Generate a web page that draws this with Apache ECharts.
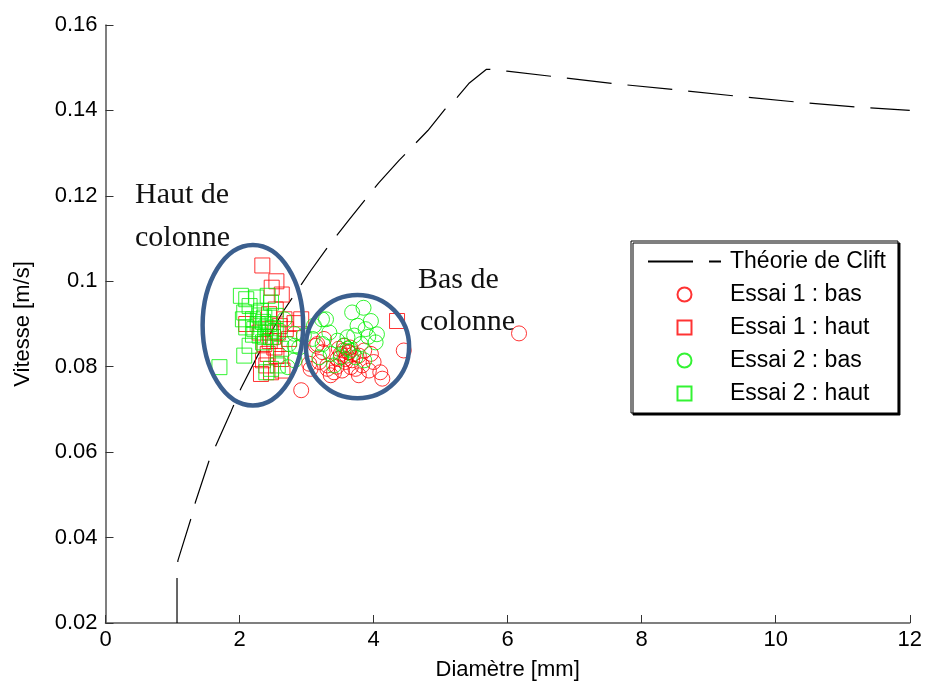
<!DOCTYPE html>
<html>
<head>
<meta charset="utf-8">
<script src="https://cdn.jsdelivr.net/npm/echarts@6.0.0/dist/echarts.min.js"></script>
<style>
	html, body { margin: 0; padding: 0; background: #fff; }
	#view1 { width: 925px; height: 686px; }
</style>
</head>
<body>
<div id="view1"></div>
<script>
	"use strict";
	// ---------------- données ----------------
	var xTicks = [0, 2, 4, 6, 8, 10, 12];
	var yTicks = [0.02, 0.04, 0.06, 0.08, 0.1, 0.12, 0.14, 0.16];
	var names = ['Théorie de Clift', 'Essai 1 : bas', 'Essai 1 : haut', 'Essai 2 : bas', 'Essai 2 : haut'];

	// théorie de Clift [diamètre mm, vitesse m/s]
	var clift = [[1.067,0.020],[1.067,0.031],[1.08,0.0346],[1.28,0.0447],[1.34,0.0482],[1.55,0.0582],[1.65,0.0617],
		[1.875,0.0696],[2.02,0.0749],[2.27,0.0826],[2.64,0.0927],[2.82,0.0969],[3.04,0.1020],[3.31,0.1079],
		[3.63,0.1143],[3.88,0.1192],[4.08,0.1231],[4.38,0.1283],[4.81,0.1353],[5.06,0.1402],[5.25,0.1431],
		[5.42,0.1463],[5.68,0.1496],[5.74,0.1496],[5.99,0.1492],[6.65,0.1480],[7.56,0.1463],[8.47,0.1449],
		[9.38,0.1434],[10.29,0.1420],[11.2,0.1408],[12,0.1400]];

	var essai1Bas = [[3.56,0.0849],[3.63,0.0834],[3.51,0.0830],[3.78,0.0826],[3.96,0.0830],[4.00,0.0811],[3.83,0.0803],
		[3.66,0.0799],[3.53,0.0791],[3.41,0.0787],[3.31,0.0803],[3.19,0.0811],[3.06,0.0795],[3.24,0.0834],[3.14,0.0849],
		[4.10,0.0787],[4.13,0.0772],[3.78,0.0780],[3.93,0.0791],[3.46,0.0818],[3.68,0.0815],[3.58,0.0811],[3.36,0.0780],
		[2.92,0.0745],[4.45,0.0838],[6.17,0.0878],[3.55,0.0838],[3.60,0.0826],[3.65,0.0845],[3.58,0.0818],[3.62,0.0834],
		[3.70,0.0830],[3.48,0.0842],[3.16,0.0853],[3.26,0.0865],[3.04,0.0807],[3.31,0.0795],[3.86,0.0838],[3.73,0.0795],
		[3.45,0.0800]];
	var essai1Haut = [[2.34,0.1037],[2.55,0.1000],[2.48,0.0985],[2.63,0.0969],[2.92,0.0911],[4.35,0.0907],[2.37,0.0853],
		[2.52,0.0845],[2.42,0.0830],[2.62,0.0818],[2.32,0.0783],[2.47,0.0787],[2.64,0.0791],[2.40,0.0803],[2.57,0.0880],
		[2.69,0.0888],[2.74,0.0865],[2.67,0.0911],[2.44,0.0923],[2.54,0.0934],[2.10,0.0900],[2.82,0.0902],[2.50,0.0870],
		[2.45,0.0860],[2.60,0.0895],[2.30,0.0880],[2.55,0.0825],[2.35,0.0815]];
	var essai2Bas = [[3.85,0.0938],[3.68,0.0927],[3.96,0.0907],[3.29,0.0911],[3.11,0.0896],[3.34,0.0880],[3.76,0.0896],
		[3.88,0.0888],[4.05,0.0876],[3.71,0.0873],[3.61,0.0869],[3.46,0.0861],[3.09,0.0865],[2.96,0.0873],[3.24,0.0853],
		[3.81,0.0853],[4.03,0.0857],[3.61,0.0842],[3.36,0.0830],[3.19,0.0822],[3.51,0.0822],[3.73,0.0822],[3.86,0.0815],
		[3.41,0.0803],[2.82,0.0849],[2.67,0.0911],[2.82,0.0877],[2.74,0.0853],[2.89,0.0845],[2.82,0.0815],[2.72,0.0799],
		[3.23,0.0911],[3.56,0.0850],[3.66,0.0838],[3.92,0.0870]];
	var essai2Haut = [[2.10,0.0958],[2.25,0.0962],[2.42,0.0966],[2.15,0.0942],[2.07,0.0927],[2.32,0.0931],[2.47,0.0950],
		[2.05,0.0911],[2.20,0.0911],[2.37,0.0915],[2.54,0.0919],[2.27,0.0900],[2.44,0.0900],[2.10,0.0892],[2.22,0.0888],
		[2.40,0.0892],[2.54,0.0884],[2.30,0.0873],[2.47,0.0869],[2.15,0.0849],[2.07,0.0826],[1.70,0.0799],[2.35,0.0857],
		[2.47,0.0795],[2.40,0.0787],[2.62,0.0842],[2.57,0.0803],[2.02,0.0966],[2.35,0.0905],[2.45,0.0880],[2.30,0.0920],
		[2.50,0.0890],[2.38,0.0870],[2.20,0.0875]];

	// ellipses d'annotation [cx, cy, rx, ry] en unités des axes
	var ellipses = [[2.199, 0.0897, 0.750, 0.0188], [3.76, 0.0847, 0.77, 0.0121]];

	// ---------------- graphique ----------------
	var FONT = 'Liberation Sans, Arial, sans-serif';
	var SERIF = 'Liberation Serif, Times New Roman, serif';
	var SQUARE = 'path://M0,0L10,0L10,10L0,10Z';

	function markerSeries(name, data, shape, color){
		return { name: name, type: 'scatter', data: data, symbol: shape, symbolSize: 15,
			itemStyle: { color: 'rgba(0,0,0,0)', borderColor: color, borderWidth: 1 },
			emphasis: { disabled: true } };
	}

	var myChart = echarts.init(document.getElementById('view1'), null, { renderer: 'canvas' });
	var option = {
		animation: false,
		grid: { left: 105.5, right: 12, top: 25, bottom: 58 },
		legend: {
			data: [
				{ name: names[0] },
				{ name: names[1], icon: 'circle' },
				{ name: names[2], icon: SQUARE },
				{ name: names[3], icon: 'circle' },
				{ name: names[4], icon: SQUARE }
			],
			orient: 'vertical', left: 631, top: 241,
			padding: [9, 12, 8, 16], itemGap: 10, itemWidth: 73, itemHeight: 14,
			backgroundColor: '#fff', borderColor: '#000', borderWidth: 1,
			shadowColor: '#000', shadowOffsetX: 2, shadowOffsetY: 2, shadowBlur: 0,
			textStyle: { fontFamily: FONT, fontSize: 23, color: '#000', padding: [0, 0, 0, 4] }
		},
		xAxis: {
			type: 'value', min: 0, max: 12, interval: 2,
			name: 'Diamètre [mm]', nameLocation: 'middle', nameGap: 36,
			nameTextStyle: { fontFamily: FONT, fontSize: 22, color: '#000' },
			axisLine: { lineStyle: { color: '#555', width: 1.5 } },
			axisTick: { inside: true, length: 8, lineStyle: { color: '#333' } },
			axisLabel: { fontFamily: FONT, fontSize: 22, color: '#000', margin: 6 },
			splitLine: { show: false }
		},
		yAxis: {
			type: 'value', min: 0.02, max: 0.16, interval: 0.02,
			name: 'Vitesse [m/s]', nameLocation: 'middle', nameGap: 72,
			nameTextStyle: { fontFamily: FONT, fontSize: 22, color: '#000' },
			axisLine: { show: true, lineStyle: { color: '#555', width: 1.5 } },
			axisTick: { show: true, inside: true, length: 8, lineStyle: { color: '#333' } },
			axisLabel: { fontFamily: FONT, fontSize: 22, color: '#000', margin: 8,
				formatter: function(v){ return String(+v.toFixed(2)); } },
			splitLine: { show: false }
		},
		series: [
			{ name: names[0], type: 'line', data: clift, symbol: 'none', smooth: false,
				itemStyle: { color: 'rgba(0,0,0,0)' },
				lineStyle: { color: '#000', width: 1.2, type: [45, 16] }, z: 2 },
			markerSeries(names[1], essai1Bas, 'circle', '#ff0000'),
			markerSeries(names[2], essai1Haut, SQUARE, '#ff0000'),
			markerSeries(names[3], essai2Bas, 'circle', '#00f000'),
			markerSeries(names[4], essai2Haut, SQUARE, '#00f000'),
			{ name: 'ellipses', type: 'custom', data: ellipses, z: 5, silent: true,
				encode: { x: 0, y: 1 },
				renderItem: function(params, api){
					var c = api.coord([api.value(0), api.value(1)]);
					var s = api.size([api.value(2), api.value(3)]);
					return { type: 'ellipse', shape: { cx: c[0], cy: c[1], rx: s[0], ry: s[1] },
						style: { fill: null, stroke: '#3b5f8e', lineWidth: 4.5 } };
				} }
		],
		graphic: [
			{ type: 'text', left: 135, top: 180, style: { text: 'Haut de', font: '30px ' + SERIF, fill: '#111' } },
			{ type: 'text', left: 135, top: 223, style: { text: 'colonne', font: '30px ' + SERIF, fill: '#111' } },
			{ type: 'text', left: 418, top: 265, style: { text: 'Bas de', font: '30px ' + SERIF, fill: '#111' } },
			{ type: 'text', left: 420, top: 307, style: { text: 'colonne', font: '30px ' + SERIF, fill: '#111' } }
		]
	};
	myChart.setOption(option);
</script>
</body>
</html>
